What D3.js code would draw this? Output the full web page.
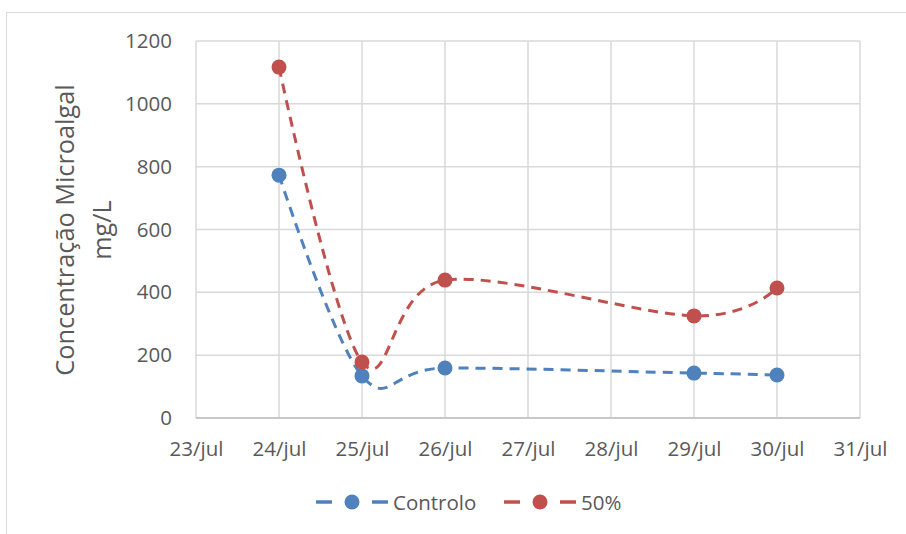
<!DOCTYPE html>
<html><head><meta charset="utf-8">
<script src="https://cdn.jsdelivr.net/npm/d3@7"></script>
<style>body{margin:0;background:#fff}svg{display:block}</style>
</head><body>
<svg id="c" width="906" height="534"></svg>
<script>
const xTickLabels = ["23/jul","24/jul","25/jul","26/jul","27/jul","28/jul","29/jul","30/jul","31/jul"];
const days = [24, 25, 26, 29, 30];
const controlo = [773, 134, 159, 143, 137];
const pct50 = [1117, 178, 439, 325, 414];
const yTicks = [0, 200, 400, 600, 800, 1000, 1200];
const seriesNames = ["Controlo", "50%"];
const colors = ["#4f81bd", "#c0504d"];

const font = "Open Sans, sans-serif";
const fs = 20.5;
const svg = d3.select("#c");
svg.append("rect").attr("x",6.5).attr("y",12.5).attr("width",906).attr("height",530)
  .attr("fill","#fff").attr("stroke","#d9d9d9").attr("stroke-width",1);

const L=196, R=860, T=41, B=418;
const x = d3.scaleLinear().domain([23,31]).range([L,R]);
const y = d3.scaleLinear().domain([0,1200]).range([B,T]);

// grid
const g = svg.append("g");
g.selectAll(".h").data(yTicks).join("line").attr("x1",L).attr("x2",R)
  .attr("y1",d=>y(d)).attr("y2",d=>y(d)).attr("stroke","#d9d9d9").attr("stroke-width",1.5);
g.selectAll(".v").data(d3.range(23,32)).join("line").attr("y1",T).attr("y2",B)
  .attr("x1",d=>x(d)).attr("x2",d=>x(d)).attr("stroke","#d9d9d9").attr("stroke-width",1.5);
g.append("line").attr("x1",L).attr("x2",R).attr("y1",B).attr("y2",B).attr("stroke","#bfbfbf").attr("stroke-width",1.5);

// y tick labels
const yAxis = d3.axisLeft(y).tickValues(yTicks).tickFormat(d3.format("d")).tickSize(0).tickPadding(24);
const ya = svg.append("g").attr("transform",`translate(${L},0)`).call(yAxis);
ya.select(".domain").remove();
ya.selectAll("text").attr("font-family",font).attr("font-size",fs).attr("fill","#595959");

// x tick labels
const xAxis = d3.axisBottom(x).tickValues(d3.range(23,32)).tickFormat((d,i)=>xTickLabels[i]).tickSize(0).tickPadding(23);
const xa = svg.append("g").attr("transform",`translate(0,${B})`).call(xAxis);
xa.select(".domain").remove();
xa.selectAll("text").attr("font-family",font).attr("font-size",fs).attr("fill","#595959");

// y title
const yt = svg.append("text").attr("transform","translate(0,230) rotate(-90)")
  .attr("text-anchor","middle").attr("font-family",font).attr("font-size",25.3).attr("fill","#595959");
yt.append("tspan").attr("x",0).attr("y",74).text("Concentração Microalgal");
yt.append("tspan").attr("x",0).attr("y",111).text("mg/L");

// lines
const data = [controlo, pct50];
const line = d3.line().x(d=>x(d[0])).y(d=>y(d[1])).curve(d3.curveCatmullRom.alpha(0));
data.forEach((vals,si)=>{
  const pts = days.map((d,i)=>[d, vals[i]]);
  svg.append("path").attr("d",line(pts)).attr("fill","none").attr("stroke",colors[si])
    .attr("stroke-width",3).attr("stroke-dasharray","10,7");
  svg.selectAll(null).data(pts).join("circle").attr("cx",d=>x(d[0])).attr("cy",d=>y(d[1]))
    .attr("r",7.5).attr("fill",colors[si]);
});

// legend
const leg = [{x:316, name:seriesNames[0], c:colors[0]},{x:504, name:seriesNames[1], c:colors[1]}];
leg.forEach(l=>{
  const ly = 502;
  svg.append("line").attr("x1",l.x).attr("x2",l.x+16).attr("y1",ly).attr("y2",ly).attr("stroke",l.c).attr("stroke-width",3.5);
  svg.append("line").attr("x1",l.x+56).attr("x2",l.x+72).attr("y1",ly).attr("y2",ly).attr("stroke",l.c).attr("stroke-width",3.5);
  svg.append("circle").attr("cx",l.x+36).attr("cy",ly).attr("r",7.5).attr("fill",l.c);
  svg.append("text").attr("x",l.x+77).attr("y",ly+7.5).attr("font-family",font).attr("font-size",fs)
    .attr("fill","#595959").text(l.name);
});
</script>
</body></html>
